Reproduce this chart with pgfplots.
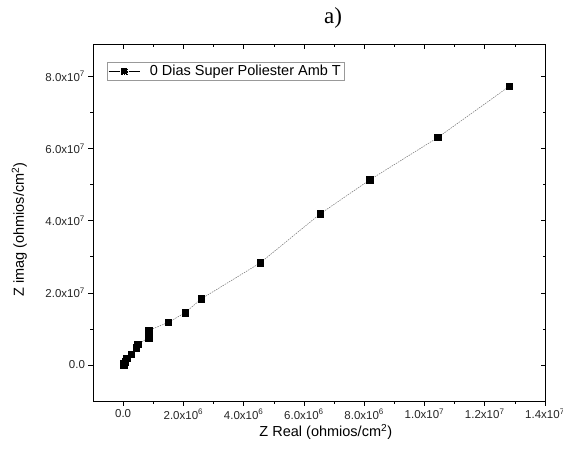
\documentclass[border=0pt]{standalone}
\usepackage{pgfplots}
\pgfplotsset{compat=1.18}
\usepackage{fontspec}
\setmainfont{Liberation Sans}
\newfontfamily\seriffont{Liberation Serif}
\begin{document}
\begin{tikzpicture}[x=1pt,y=1pt]
\useasboundingbox (0,0) rectangle (563,448);
\pgfplotsset{
  common/.style={
    at={(93pt,47pt)}, anchor=south west, scale only axis,
    width=452pt, height=357pt,
    xmin=-1e6, xmax=1.4e7, ymin=-1e7, ymax=8.9e7,
    xtick={0,2e6,4e6,6e6,8e6,1e7,1.2e7,1.4e7},
    ytick={0,2e7,4e7,6e7,8e7},
    minor x tick num=1, minor y tick num=1,
    major tick length=4.5pt, minor tick length=2.5pt,
    every tick/.style={black, line width=0.6pt},
    axis line style={black, line width=0.8pt},
    scaled ticks=false,
  }
}
\begin{axis}[common,
  tick align=outside, xtick pos=bottom, ytick pos=left,
  xticklabels={0.0, 2.0x10\textsuperscript{6}, 4.0x10\textsuperscript{6}, 6.0x10\textsuperscript{6}, 8.0x10\textsuperscript{6}, 1.0x10\textsuperscript{7}, 1.2x10\textsuperscript{7}, 1.4x10\textsuperscript{7}},
  yticklabels={0.0, 2.0x10\textsuperscript{7}, 4.0x10\textsuperscript{7}, 6.0x10\textsuperscript{7}, 8.0x10\textsuperscript{7}},
  tick label style={font=\fontsize{11.5}{13}\selectfont, text=black!85},
  xlabel={Z Real (ohmios/cm\textsuperscript{2})},
  ylabel={Z imag (ohmios/cm\textsuperscript{2})},
  label style={font=\fontsize{14.5}{16}\selectfont},
  xlabel style={at={(axis description cs:0.515,-0.087)}, anchor=center},
  ylabel style={at={(axis description cs:-0.163,0.48)}, anchor=center},
  legend style={at={(axis description cs:0.031,0.95)}, anchor=north west,
    draw=black!40, line width=0.5pt, font=\fontsize{14.5}{15.5}\selectfont,
    inner sep=1pt, row sep=0pt},
  legend cell align=left,
]
\addplot[color=black!55, line width=0.5pt, dash pattern=on 1.5pt off 1pt,
  mark=square*, mark size=3.3pt, mark options={solid, fill=black, draw=black},
  legend image code/.code={
    \draw[black, solid, line width=0.6pt] (0pt,0pt) -- (11pt,0pt);
    \draw[black, solid, line width=0.6pt] (20pt,0pt) -- (31pt,0pt);
    \fill[black] (12.5pt,-3pt) rectangle (18.5pt,3pt);
  }]
coordinates {
(0.01e6, 0.00e7)
(0.02e6, 0.04e7)
(0.03e6, 0.00e7)
(0.07e6, 0.09e7)
(0.12e6, 0.19e7)
(0.27e6, 0.30e7)
(0.43e6, 0.48e7)
(0.48e6, 0.57e7)
(0.86e6, 0.76e7)
(0.86e6, 0.96e7)
(1.50e6, 1.18e7)
(2.06e6, 1.45e7)
(2.59e6, 1.83e7)
(4.55e6, 2.83e7)
(6.54e6, 4.19e7)
(8.18e6, 5.13e7)
(10.45e6, 6.31e7)
(12.82e6, 7.73e7)
};
\addlegendentry{\hspace*{8pt}0 Dias Super Poliester Amb T}
\end{axis}
\begin{axis}[common,
  tick align=inside, xtick pos=top, ytick pos=right,
  xticklabels={}, yticklabels={},
]
\end{axis}
\node[font=\seriffont\fontsize{23}{26}\selectfont] at (333,430) {a)};
\end{tikzpicture}
\end{document}
